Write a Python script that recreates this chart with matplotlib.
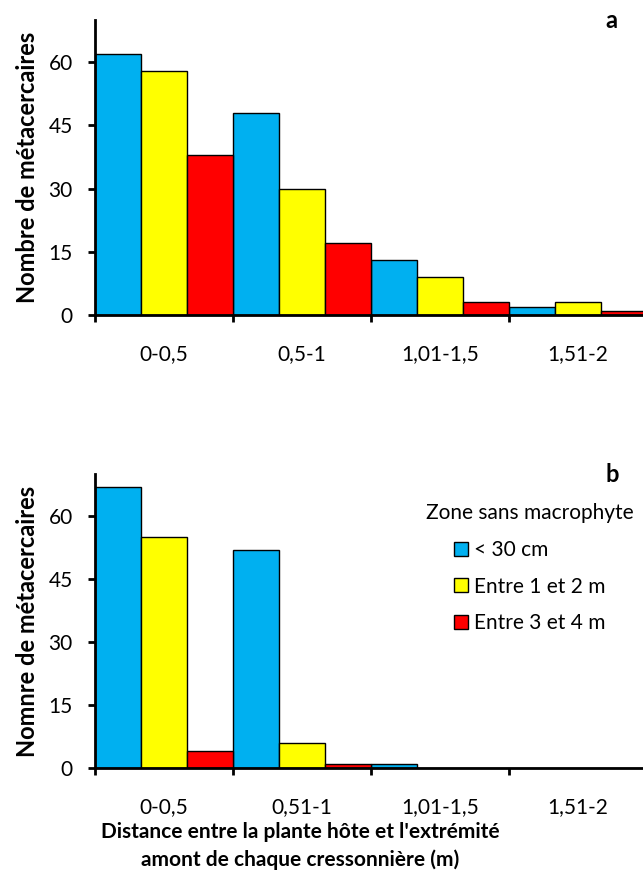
import matplotlib
matplotlib.use("Agg")
import matplotlib.pyplot as plt
import numpy as np
from matplotlib.patches import Patch

plt.rcParams['font.family'] = ['Lato', 'DejaVu Sans']

# données
series = ["< 30 cm", "Entre 1 et 2 m", "Entre 3 et 4 m"]
colors = ["#00B0F0", "#FFFF00", "#FF0000"]

labels_a = ["0-0,5", "0,5-1", "1,01-1,5", "1,51-2"]
blue_a = [62, 48, 13, 2]
yellow_a = [58, 30, 9, 3]
red_a = [38, 17, 3, 1]

labels_b = ["0-0,5", "0,51-1", "1,01-1,5", "1,51-2"]
blue_b = [67, 52, 1, 0]
yellow_b = [55, 6, 0, 0]
red_b = [4, 1, 0, 0]

yticks = [0, 15, 30, 45, 60]

W, H = 643, 885
fig = plt.figure(figsize=(W / 100, H / 100), dpi=100)

# axes : bord gauche x=95 px, largeur de groupe ~138 px
left = 95 / W
group_px = 138
ax_w = (W - 95) / W
xmax = (W - 95) / group_px


def panel(ax, vals, labels, letter, ylabel):
    bw = 1 / 3
    x = np.arange(len(labels))
    for i, (v, c) in enumerate(zip(vals, colors)):
        ax.bar(x + i * bw, v, width=bw, align="edge", color=c,
               edgecolor="black", linewidth=1.0, label=series[i])
    ax.set_xlim(0, xmax)
    ax.set_ylim(0, 70)
    ax.set_yticks(yticks)
    ax.tick_params(axis="y", length=5, width=2, direction="out", labelsize=15, pad=11)
    for s in ["top", "right"]:
        ax.spines[s].set_visible(False)
    for s in ["left", "bottom"]:
        ax.spines[s].set_linewidth(2)
    ax.set_ylabel(ylabel, fontsize=17, fontweight="bold", labelpad=7)
    ax.text(0.943, 1.0, letter, transform=ax.transAxes,
            fontsize=17, fontweight="bold", ha="center", va="center")
    # étiquettes au centre des groupes, traits aux limites des groupes
    ax.set_xticks(np.arange(0, 4), minor=True)
    ax.tick_params(axis="x", which="minor", length=5, width=2, direction="out")
    ax.set_xticks(x + 0.5)
    ax.set_xticklabels(labels, fontsize=15)
    ax.tick_params(axis="x", which="major", length=0, pad=21, labelsize=15)


ax1 = fig.add_axes([left, 1 - 315 / H, ax_w, 295 / H])
ax2 = fig.add_axes([left, 1 - 768 / H, ax_w, 294 / H])

ax2.set_xlabel("Distance entre la plante hôte et l'extrémité\namont de chaque cressonnière (m)",
               fontsize=15, fontweight="bold", linespacing=1.4)
ax2.xaxis.set_label_coords(0.374, -0.185)

handles = [Patch(facecolor=c, edgecolor="black", linewidth=1) for c in colors]
leg = ax2.legend(handles, series, title="Zone sans macrophyte", loc="upper right",
                 bbox_to_anchor=(1.01, 0.95), frameon=False, fontsize=15,
                 title_fontsize=15, handlelength=0.65, handleheight=0.65,
                 handletextpad=0.3, labelspacing=0.8, borderpad=0.2)

panel(ax1, [blue_a, yellow_a, red_a], labels_a, "a", "Nombre de métacercaires")
panel(ax2, [blue_b, yellow_b, red_b], labels_b, "b", "Nomnre de métacercaires")

fig.savefig("out.png", dpi=100)
